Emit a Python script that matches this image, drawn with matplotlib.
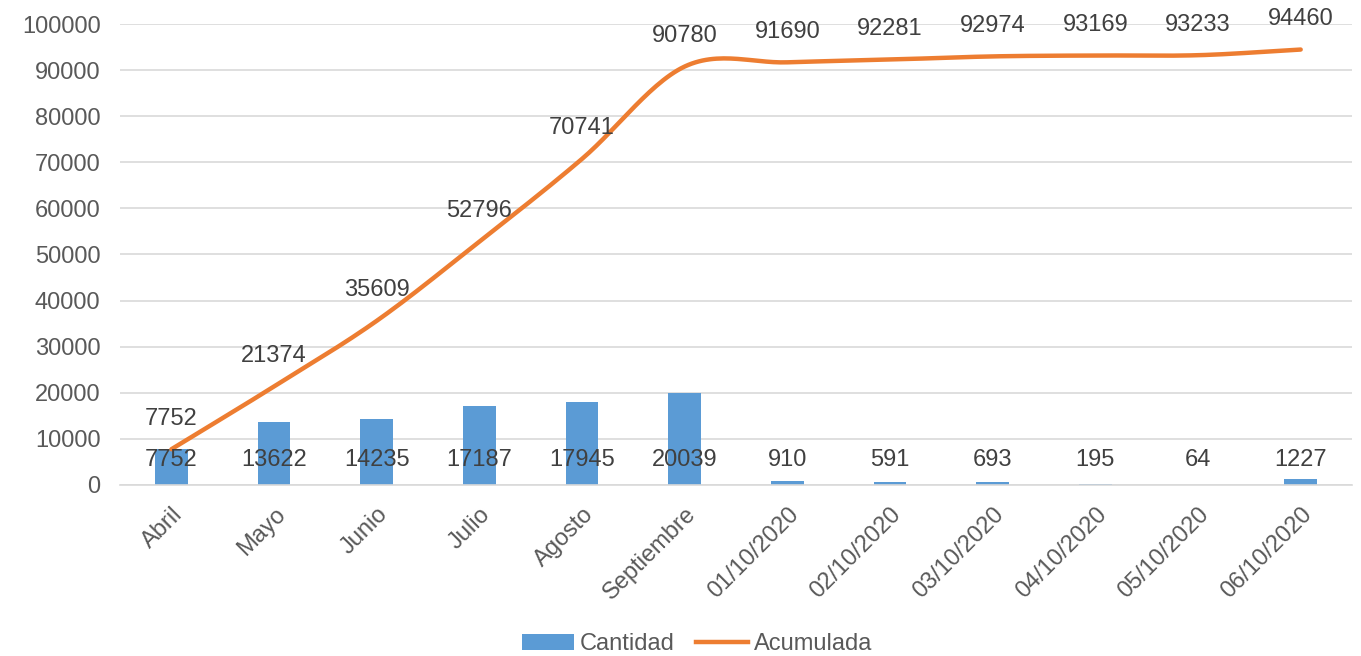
import numpy as np
import matplotlib.pyplot as plt
from matplotlib.patches import Patch
from matplotlib.lines import Line2D

plt.rcParams.update({
    "font.size": 17,
    "font.family": ["Liberation Sans", "DejaVu Sans"],
})

categories = ['Abril', 'Mayo', 'Junio', 'Julio', 'Agosto', 'Septiembre',
              '01/10/2020', '02/10/2020', '03/10/2020', '04/10/2020', '05/10/2020', '06/10/2020']
cantidad = [7752, 13622, 14235, 17187, 17945, 20039, 910, 591, 693, 195, 64, 1227]
acumulada = [7752, 21374, 35609, 52796, 70741, 90780, 91690, 92281, 92974, 93169, 93233, 94460]

BAR_COLOR = '#5B9BD5'
LINE_COLOR = '#ED7D31'
TEXT_COLOR = '#404040'
TICK_COLOR = '#595959'


def smooth_line(x, y, steps=30):
    # Catmull-Rom curve through the points, similar to a spreadsheet smoothed line
    x = np.asarray(x, dtype=float)
    y = np.asarray(y, dtype=float)
    px = np.concatenate([[2 * x[0] - x[1]], x, [2 * x[-1] - x[-2]]])
    py = np.concatenate([[2 * y[0] - y[1]], y, [2 * y[-1] - y[-2]]])
    out_x, out_y = [], []
    t = np.linspace(0, 1, steps)
    for i in range(1, len(px) - 2):
        for arr, out in ((px, out_x), (py, out_y)):
            p0, p1, p2, p3 = arr[i - 1], arr[i], arr[i + 1], arr[i + 2]
            seg = 0.5 * ((2 * p1) + (-p0 + p2) * t
                         + (2 * p0 - 5 * p1 + 4 * p2 - p3) * t ** 2
                         + (-p0 + 3 * p1 - 3 * p2 + p3) * t ** 3)
            out.extend(seg)
    return np.array(out_x), np.array(out_y)


fig = plt.figure(figsize=(13.61, 6.56), dpi=100)
ax = fig.add_axes([0.0882, 0.2607, 0.9052, 0.7027])

x = np.arange(len(categories))
ax.bar(x, cantidad, width=0.32, color=BAR_COLOR, zorder=2)
sx, sy = smooth_line(x, acumulada)
ax.plot(sx, sy, color=LINE_COLOR, linewidth=3.2, solid_capstyle='round', zorder=3)

for xi, v in zip(x, cantidad):
    ax.text(xi, 5400, str(v), ha='center', va='center', color=TEXT_COLOR, fontsize=17, zorder=4)
for xi, v in zip(x, acumulada):
    ax.annotate(str(v), (xi, v), xytext=(0, 22), textcoords='offset points',
                ha='center', va='center', color=TEXT_COLOR, fontsize=17, zorder=4)

ax.set_xlim(-0.5, len(categories) - 0.5)
ax.set_ylim(0, 100000)
ax.set_yticks(np.arange(0, 100001, 10000))
ax.set_xticks(x)
ax.set_xticklabels(categories, rotation=45, ha='right', rotation_mode='anchor', color=TICK_COLOR)
ax.tick_params(axis='y', length=0, colors=TICK_COLOR, pad=14)
ax.tick_params(axis='x', length=0, pad=13)
ax.grid(axis='y', color='#D9D9D9', linewidth=1.2, zorder=0)
ax.set_axisbelow(True)
for side in ['top', 'right', 'left']:
    ax.spines[side].set_visible(False)
ax.spines['bottom'].set_color('#D9D9D9')
ax.spines['bottom'].set_linewidth(1.2)

handles = [Patch(facecolor=BAR_COLOR), Line2D([0], [0], color=LINE_COLOR, linewidth=3.2)]
fig.legend(handles, ['Cantidad', 'Acumulada'], loc='center', ncol=2, frameon=False,
           bbox_to_anchor=(0.512, 0.018), handlelength=2.2, handletextpad=0.25, columnspacing=0.9,
           labelcolor=TICK_COLOR)

fig.savefig('out.png', dpi=100)
